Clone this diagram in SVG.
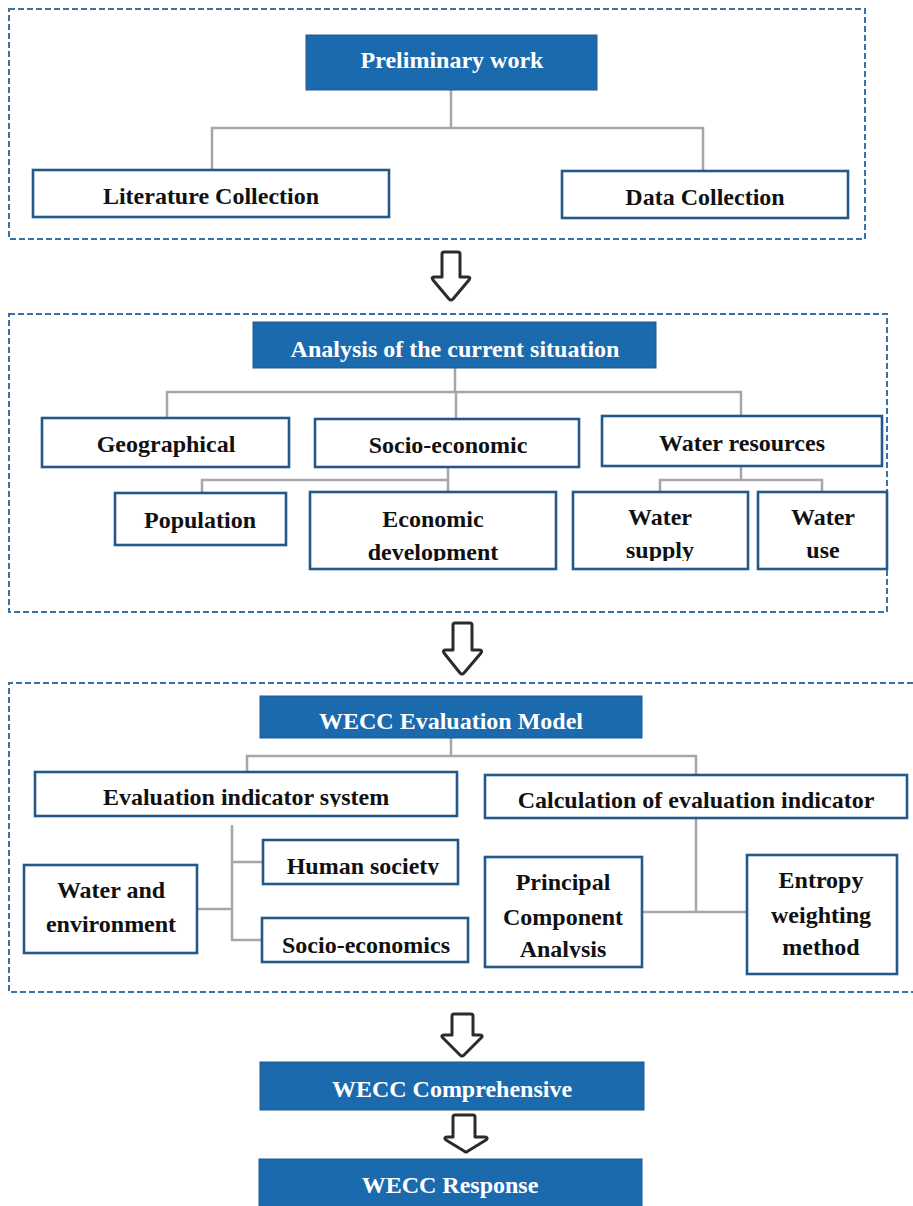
<svg xmlns="http://www.w3.org/2000/svg" width="913" height="1206" viewBox="0 0 913 1206">
<style>
.frame{fill:none;stroke:#3a72a8;stroke-width:2;stroke-dasharray:6 3}
.box{fill:#fff;stroke:#22598a;stroke-width:2.6}
.title{fill:#1b6aae;stroke:#22598a;stroke-width:1}
.lbl{font-family:"Liberation Serif","Times New Roman",serif;font-weight:bold;font-size:24px;fill:#111;text-anchor:middle}
.tl{font-family:"Liberation Serif","Times New Roman",serif;font-weight:bold;font-size:24px;fill:#fff;text-anchor:middle}
.con{fill:none;stroke:#a6a6a6;stroke-width:2.5}
.arr{fill:#fff;stroke:#2b2b2b;stroke-width:3;stroke-linejoin:round}
</style>
<defs>
<clipPath id="c1"><rect x="0" y="0" width="913" height="561"/></clipPath>
<clipPath id="c2"><rect x="0" y="0" width="913" height="807"/></clipPath>
<clipPath id="c3"><rect x="0" y="0" width="913" height="875"/></clipPath>
<clipPath id="c4"><rect x="0" y="0" width="913" height="958"/></clipPath>
</defs>
<rect width="913" height="1206" fill="#fff"/>

<g id="frames">
<rect class="frame" x="9" y="9" width="856" height="230"/>
<rect class="frame" x="9" y="314" width="878" height="298"/>
<path class="frame" d="M913 683 H9 V992 H913"/>
</g>

<g id="connectors">
<path class="con" d="M451 90 V128 M212 170 V128 H703 V171"/>
<path class="con" d="M455 368 V392 M167 418 V392 H741 V416 M456 392 V418"/>
<path class="con" d="M448 467 V480 M202 493 V480 H448 V492"/>
<path class="con" d="M741 466 V480 M660 491 V480 H822 V491"/>
<path class="con" d="M451 738 V756 M247 772 V756 H696 V776"/>
<path class="con" d="M232 825 V940 H263 M232 862 H264 M197 909 H232"/>
<path class="con" d="M696 818 V912 M642 912 H747"/>
</g>

<g id="arrows">
<path class="arr" d="M444 252 H458 Q460 252 460 254 V277 H468 Q471 277 469 280 L453 299 Q451 301 449 299 L433 280 Q431 277 434 277 H442 V254 Q442 252 444 252 Z"/>
<path class="arr" d="M455 623 H470 Q472 623 472 625 V650 H479 Q483 650 481 653 L464 673 Q462 675 460 673 L444 653 Q442 650 446 650 H453 V625 Q453 623 455 623 Z"/>
<path class="arr" d="M454 1014 H471 Q473 1014 473 1016 V1035 H479 Q484 1035 481 1038 L464 1055 Q462 1057 460 1055 L443 1038 Q440 1035 445 1035 H452 V1016 Q452 1014 454 1014 Z"/>
<path class="arr" d="M455 1115 H473 Q475 1115 475 1117 V1137 H484 Q489 1137 486 1140 L468 1151 Q466 1153 464 1151 L446 1140 Q443 1137 448 1137 H453 V1117 Q453 1115 455 1115 Z"/>
</g>

<g id="n-preliminary"><rect class="title" x="306" y="35" width="291" height="55"/><text class="tl" x="452" y="68">Preliminary work</text></g>
<g id="n-literature"><rect class="box" x="33" y="170" width="356" height="47"/><text class="lbl" x="211" y="204">Literature Collection</text></g>
<g id="n-data"><rect class="box" x="562" y="171" width="286" height="47"/><text class="lbl" x="705" y="205">Data Collection</text></g>

<g id="n-analysis"><rect class="title" x="253" y="322" width="403" height="46"/><text class="tl" x="455" y="357">Analysis of the current situation</text></g>
<g id="n-geo"><rect class="box" x="42" y="418" width="247" height="49"/><text class="lbl" x="166" y="452">Geographical</text></g>
<g id="n-socio"><rect class="box" x="315" y="419" width="264" height="48"/><text class="lbl" x="448" y="453">Socio-economic</text></g>
<g id="n-water"><rect class="box" x="602" y="416" width="280" height="50"/><text class="lbl" x="742" y="451">Water resources</text></g>
<g id="n-population"><rect class="box" x="115" y="493" width="171" height="52"/><text class="lbl" x="200" y="528">Population</text></g>
<g id="n-economic"><rect class="box" x="310" y="492" width="246" height="77"/><text class="lbl" x="433" y="527">Economic</text><text class="lbl" x="433" y="560" clip-path="url(#c1)">development</text></g>
<g id="n-supply"><rect class="box" x="573" y="492" width="175" height="77"/><text class="lbl" x="660" y="525">Water</text><text class="lbl" x="660" y="558" clip-path="url(#c1)">supply</text></g>
<g id="n-use"><rect class="box" x="758" y="492" width="129" height="77"/><text class="lbl" x="823" y="525">Water</text><text class="lbl" x="823" y="558" clip-path="url(#c1)">use</text></g>

<g id="n-model"><rect class="title" x="260" y="696" width="382" height="42"/><text class="tl" x="451" y="729">WECC Evaluation Model</text></g>
<g id="n-system"><rect class="box" x="35" y="772" width="422" height="44"/><text class="lbl" x="246" y="805" clip-path="url(#c2)">Evaluation indicator system</text></g>
<g id="n-calc"><rect class="box" x="485" y="775" width="422" height="43"/><text class="lbl" x="696" y="808">Calculation of evaluation indicator</text></g>
<g id="n-human"><rect class="box" x="263" y="840" width="195" height="44"/><text class="lbl" x="363" y="874" clip-path="url(#c3)">Human society</text></g>
<g id="n-waterenv"><rect class="box" x="24" y="865" width="173" height="88"/><text class="lbl" x="111" y="898">Water and</text><text class="lbl" x="111" y="932">environment</text></g>
<g id="n-socioecon"><rect class="box" x="262" y="918" width="206" height="44"/><text class="lbl" x="366" y="953">Socio-economics</text></g>
<g id="n-pca"><rect class="box" x="485" y="857" width="157" height="110"/><text class="lbl" x="563" y="890">Principal</text><text class="lbl" x="563" y="925">Component</text><text class="lbl" x="563" y="957" clip-path="url(#c4)">Analysis</text></g>
<g id="n-entropy"><rect class="box" x="747" y="855" width="150" height="119"/><text class="lbl" x="821" y="888">Entropy</text><text class="lbl" x="821" y="923">weighting</text><text class="lbl" x="821" y="955">method</text></g>

<g id="n-comprehensive"><rect class="title" x="260" y="1062" width="384" height="48"/><text class="tl" x="452" y="1097">WECC Comprehensive</text></g>
<g id="n-response"><rect class="title" x="259" y="1159" width="383" height="52"/><text class="tl" x="450" y="1193">WECC Response</text></g>
</svg>
